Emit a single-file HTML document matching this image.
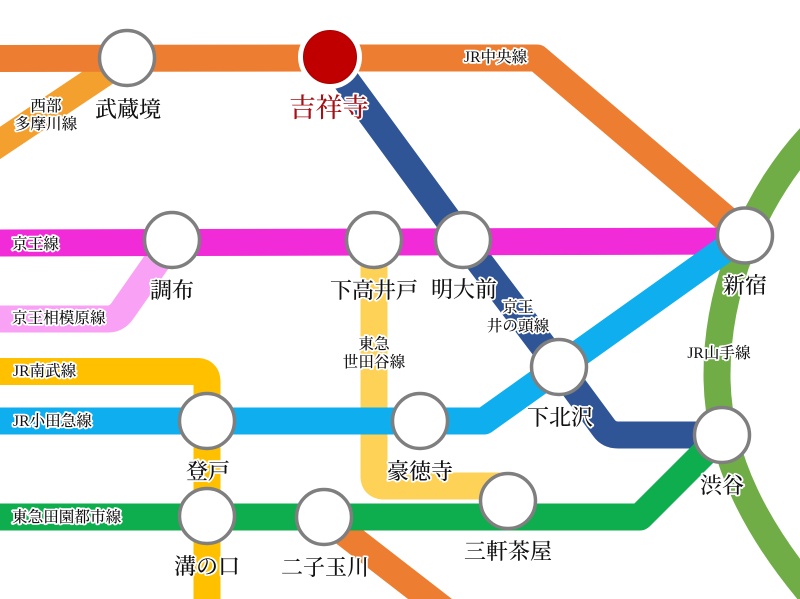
<!DOCTYPE html>
<html lang="ja">
<head>
<meta charset="utf-8">
<style>
html,body{margin:0;padding:0;background:#fff;width:800px;height:599px;overflow:hidden}
svg{display:block;overflow:hidden}
text{font-family:"Liberation Serif","Noto Serif CJK SC",serif;font-weight:500;paint-order:stroke;stroke:#fff;stroke-linejoin:round}
.s{font-size:22px;stroke-width:3.5px;fill:#111;text-anchor:middle}
.l{font-size:15.600px;stroke-width:3.5px;fill:#111}
.m{text-anchor:middle}
.st{fill:#fff;stroke:#7f7f7f;stroke-width:3.5}
.ln{fill:none;stroke-width:27;stroke-linejoin:round}
</style>
</head>
<body>
<svg width="800" height="599" viewBox="0 0 800 599" xmlns="http://www.w3.org/2000/svg">
<rect width="800" height="599" fill="#fff"/>
<path class="ln" stroke="#70ad47" d="M812,135C760,190 717,280 717,375C717,460 760,535 815,599"/>
<path class="ln" stroke="#f4a02f" d="M127,58L-30,163"/>
<path class="ln" stroke="#ed7d31" d="M-10,58.500L329,58L537,58L745,235"/>
<polygon fill="#ed7d31" points="332,506 452,599 408,599 316,528"/>
<path class="ln" stroke="#2f5597" d="M329,57L463,240L559,367L604,428Q609,435 618,435L722,435"/>
<path class="ln" stroke="#f9a2f5" d="M172,240L123,310Q117,319 108,319L-10,319"/>
<path class="ln" stroke="#f22bd9" d="M-10,243L400,242L745,241"/>
<path class="ln" stroke="#ffc000" d="M-10,371.500L197,371.500Q207,371.500 207,382L207,599"/>
<path class="ln" stroke="#fdd257" d="M374,240L374,476Q374,486 384,486L508,486"/>
<path class="ln" stroke="#0eaeef" d="M-10,421L484,421L745,235"/>
<path class="ln" stroke="#0ead4e" d="M-10,517L640,517L722,435"/>

<circle cx="330" cy="57" r="32" fill="#fff"/>
<circle cx="330" cy="57" r="26.500" fill="#c00000" stroke="#a80000" stroke-width="1"/>
<g class="st">
<circle cx="127" cy="58" r="27.500"/>
<circle cx="172" cy="240" r="27.500"/>
<circle cx="374" cy="240" r="27.500"/>
<circle cx="463" cy="240" r="27.500"/>
<circle cx="745" cy="235.500" r="27.500"/>
<circle cx="559" cy="367" r="27.500"/>
<circle cx="207" cy="421" r="27.500"/>
<circle cx="420" cy="421" r="27.500"/>
<circle cx="207" cy="516" r="27.500"/>
<circle cx="324" cy="517" r="27.500"/>
<circle cx="508" cy="501" r="27.500"/>
<circle cx="722" cy="435" r="27.500"/>
</g>

<text class="s" x="128" y="117">武蔵境</text>
<text class="s" x="329" y="117" style="font-size:26.500px;fill:#a50f15">吉祥寺</text>
<text class="s" x="172" y="298">調布</text>
<text class="s" x="374" y="298">下高井戸</text>
<text class="s" x="464" y="297">明大前</text>
<text class="s" x="745" y="293">新宿</text>
<text class="s" x="560" y="425">下北沢</text>
<text class="s" x="208" y="479">登戸</text>
<text class="s" x="420" y="479">豪徳寺</text>
<text class="s" x="207" y="574">溝の口</text>
<text class="s" x="325" y="575">二子玉川</text>
<text class="s" x="508" y="559">三軒茶屋</text>
<text class="s" x="722" y="493">渋谷</text>

<text class="l m" x="46" y="111">西部</text>
<text class="l m" x="46" y="129">多摩川線</text>
<text class="l" x="464" y="62">JR中央線</text>
<text class="l" x="12" y="249">京王線</text>
<text class="l" x="12" y="323">京王相模原線</text>
<text class="l" x="13" y="376">JR南武線</text>
<text class="l" x="13" y="426">JR小田急線</text>
<text class="l" x="12" y="522">東急田園都市線</text>
<text class="l m" x="374" y="349">東急</text>
<text class="l m" x="374" y="367">世田谷線</text>
<text class="l m" x="518" y="312">京王</text>
<text class="l m" x="518" y="331">井の頭線</text>
<text class="l m" x="719" y="358">JR山手線</text>
</svg>
</body>
</html>
